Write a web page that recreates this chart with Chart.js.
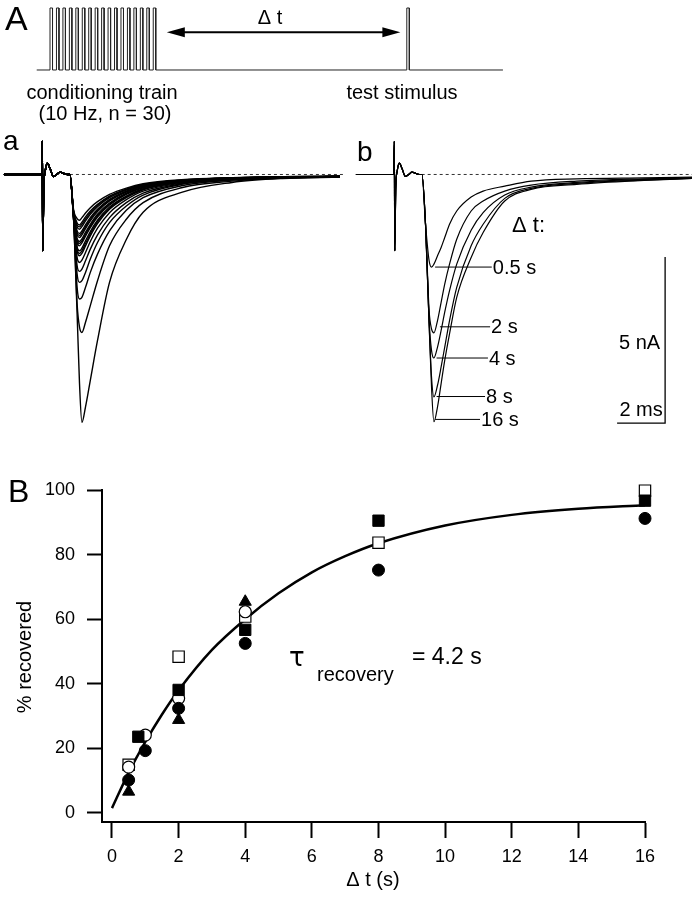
<!DOCTYPE html>
<html>
<head>
<meta charset="utf-8">
<script src="https://cdn.jsdelivr.net/npm/chart.js@4.4.1/dist/chart.umd.min.js"></script>
<style>
body { margin: 0; background: #fff; }
#wrap { position: relative; width: 692px; height: 900px; }
canvas { position: absolute; }
</style>
</head>
<body>
<div id="wrap">
  <canvas id="cA" width="692" height="130" style="left:0px;top:0px"></canvas>
  <canvas id="ca" width="345" height="310" style="left:0px;top:130px"></canvas>
  <canvas id="cb" width="347" height="310" style="left:345px;top:130px"></canvas>
  <canvas id="cB" width="692" height="440" style="left:0px;top:460px"></canvas>
</div>
<script>
// ---- A: stimulation protocol (x in train periods, y in pulse heights)
var trainOnsets = [0, 1, 2, 3, 4, 5, 6, 7, 8, 9, 10, 11, 12, 13, 14, 15, 16];
var testOnset = 55.3;
var pulseWidth = 0.39;
var protoStart = -2.06, protoEnd = 70.2;
var dtArrow = [18.1, 54.3];
var arrowLevel = 0.61;

// ---- a / b: EPSC traces (x in ms from stimulus, y in nA)
var tArt = [-1.6, -0.03, 0, 0.02, 0.06, 0.12, 0.21, 0.32, 0.46, 0.6, 0.74, 0.9, 1.05];
var vArt = [0, 0, 1.0, -2.3, -0.4, 0.1, 0.34, 0.18, -0.06, 0.0, 0.07, 0.03, 0];

var tA = [1.15, 1.3, 1.45, 1.55, 1.65, 1.8, 2.0, 2.3, 2.8, 3.5, 4.2, 5.8, 7.9, 10, 12.4];
var trainTraces = [
  [0, -1.3, -4.2, -6.3, -7.47, -7.0, -6.2, -5.0, -3.25, -1.96, -1.14, -0.54, -0.24, -0.12, -0.08],
  [0, -1.3, -3.9, -4.6, -4.76, -4.45, -3.95, -3.2, -2.15, -1.35, -0.85, -0.4, -0.2, -0.11, -0.08],
  [0, -1.3, -3.4, -3.75, -3.7, -3.4, -2.95, -2.4, -1.7, -1.08, -0.7, -0.34, -0.17, -0.1, -0.07],
  [0, -1.3, -3.0, -3.25, -3.2, -2.95, -2.55, -2.05, -1.45, -0.95, -0.62, -0.3, -0.16, -0.1, -0.07],
  [0, -1.3, -2.75, -2.92, -2.85, -2.6, -2.25, -1.82, -1.3, -0.85, -0.56, -0.28, -0.15, -0.1, -0.07],
  [0, -1.3, -2.5, -2.65, -2.58, -2.35, -2.02, -1.62, -1.15, -0.76, -0.5, -0.26, -0.14, -0.09, -0.07],
  [0, -1.25, -2.3, -2.45, -2.38, -2.15, -1.85, -1.48, -1.05, -0.7, -0.46, -0.24, -0.13, -0.09, -0.06],
  [0, -1.25, -2.25, -2.38, -2.3, -2.08, -1.79, -1.43, -1.02, -0.67, -0.44, -0.235, -0.13, -0.09, -0.06],
  [0, -1.25, -2.18, -2.3, -2.22, -2.0, -1.72, -1.38, -0.98, -0.65, -0.43, -0.23, -0.13, -0.09, -0.06],
  [0, -1.2, -2.05, -2.15, -2.06, -1.86, -1.6, -1.28, -0.92, -0.6, -0.4, -0.22, -0.12, -0.08, -0.06],
  [0, -1.2, -1.99, -2.08, -2.0, -1.8, -1.55, -1.24, -0.89, -0.58, -0.39, -0.215, -0.12, -0.08, -0.06],
  [0, -1.2, -1.93, -2.02, -1.94, -1.74, -1.5, -1.2, -0.86, -0.56, -0.38, -0.21, -0.12, -0.08, -0.06],
  [0, -1.15, -1.82, -1.9, -1.82, -1.63, -1.4, -1.12, -0.8, -0.53, -0.36, -0.2, -0.11, -0.08, -0.06],
  [0, -1.15, -1.76, -1.84, -1.76, -1.58, -1.35, -1.08, -0.78, -0.51, -0.35, -0.195, -0.11, -0.08, -0.06],
  [0, -1.15, -1.7, -1.78, -1.7, -1.52, -1.3, -1.05, -0.75, -0.5, -0.34, -0.19, -0.11, -0.08, -0.06],
  [0, -1.1, -1.58, -1.65, -1.57, -1.4, -1.2, -0.97, -0.7, -0.47, -0.32, -0.18, -0.1, -0.07, -0.05],
  [0, -1.1, -1.52, -1.58, -1.5, -1.34, -1.15, -0.93, -0.67, -0.45, -0.31, -0.175, -0.1, -0.07, -0.05],
  [0, -1.1, -1.46, -1.52, -1.44, -1.28, -1.1, -0.9, -0.65, -0.44, -0.3, -0.17, -0.1, -0.07, -0.05],
  [0, -1.05, -1.33, -1.38, -1.3, -1.16, -1.0, -0.82, -0.6, -0.41, -0.28, -0.16, -0.1, -0.07, -0.05]
];

var tB = [1.15, 1.3, 1.45, 1.55, 1.65, 1.8, 1.95, 2.1, 2.3, 2.6, 3.2, 3.7, 4.6, 5.7, 7.6, 10.4, 12.4];
var b16 = [0, -1.5, -4.5, -6.4, -7.45, -7.0, -6.3, -5.6, -4.8, -3.7, -2.5, -1.75, -0.8, -0.45, -0.3, -0.18, -0.12];
var b8  = [0, -1.5, -4.5, -6.1, -6.70, -6.35, -5.8, -5.2, -4.4, -3.4, -2.15, -1.5, -0.72, -0.42, -0.27, -0.17, -0.12];
var b4  = [0, -1.5, -4.4, -5.3, -5.53, -5.2, -4.7, -4.15, -3.5, -2.7, -1.68, -1.15, -0.62, -0.38, -0.24, -0.15, -0.11];
var b2  = [0, -1.5, -4.1, -4.65, -4.77, -4.4, -3.85, -3.3, -2.7, -1.95, -1.1, -0.8, -0.5, -0.32, -0.2, -0.13, -0.1];
var b05 = [0, -1.5, -2.6, -2.79, -2.7, -2.45, -2.2, -1.9, -1.5, -1.1, -0.68, -0.5, -0.35, -0.2, -0.13, -0.1, -0.08];

var labelText = ['0.5 s', '2 s', '4 s', '8 s', '16 s'];
var labelV  = [-2.79, -4.59, -5.53, -6.69, -7.38];
var labelT0 = [1.7, 1.9, 1.76, 1.76, 1.7];
var labelT1 = [4.06, 3.99, 3.9, 3.78, 3.57];

var barT = 11.28, barTop = -2.49, barNA = 5, barMS = 2;

// ---- B: recovery
var fitT = [0, 0.5, 1, 1.5, 2, 3, 4, 5, 6, 7, 8, 10, 12, 14, 16];
var fitV = [1.5, 12.5, 22, 30.5, 38, 50.5, 60, 68, 74.5, 79.5, 83.5, 89, 92.3, 94.2, 95.3];
var filledCircle = [[0.5, 10.2], [1, 19.3], [2, 32.4], [4, 52.5], [8, 75.2], [16, 91.2]];
var openCircle   = [[0.5, 14.2], [1, 24.1], [2, 35.5], [4, 62.3]];
var filledSquare = [[0.79, 23.6], [2, 38.1], [4, 56.7], [8, 90.5], [16, 96.7]];
var openSquare   = [[0.5, 14.9], [2, 48.4], [4, 60.8], [8, 83.7], [16, 99.8]];
var filledTri    = [[0.5, 6.6], [2, 28.8], [4, 65.4]];
var xTicksMax = 16, yTicksMax = 100;

var FONT = '"Liberation Sans", Arial, Helvetica, sans-serif';

function xy(ts, vs) { return ts.map(function(t, i) { return {x: t, y: vs[i]}; }); }
function pairs(p) { return p.map(function(d) { return {x: d[0], y: d[1]}; }); }

function textPlugin(list) {
  return {
    id: 'texts',
    afterDraw: function(chart) {
      var ctx = chart.ctx;
      var items = typeof list === 'function' ? list(chart) : list;
      items.forEach(function(l) {
        ctx.save();
        ctx.font = l.font;
        ctx.fillStyle = '#000';
        ctx.textAlign = l.align || 'left';
        ctx.textBaseline = l.base || 'middle';
        ctx.translate(l.x, l.y);
        if (l.rot) ctx.rotate(l.rot);
        ctx.fillText(l.text, 0, 0);
        ctx.restore();
      });
    }
  };
}

function hiddenScales(xmin, xmax, ymin, ymax) {
  return {
    x: {type: 'linear', display: false, min: xmin, max: xmax},
    y: {type: 'linear', display: false, min: ymin, max: ymax}
  };
}

function baseOpts(scales) {
  return {
    responsive: false,
    animation: false,
    events: [],
    layout: {padding: 0},
    plugins: {legend: {display: false}, tooltip: {enabled: false}},
    elements: {point: {radius: 0}, line: {borderColor: '#000', borderWidth: 1, cubicInterpolationMode: 'monotone'}},
    scales: scales
  };
}

// ---------- A ----------
var proto = [{x: protoStart, y: 0}];
trainOnsets.concat([testOnset]).forEach(function(o) {
  proto.push({x: o, y: 0}, {x: o, y: 1}, {x: o + pulseWidth, y: 1}, {x: o + pulseWidth, y: 0});
});
proto.push({x: protoEnd, y: 0});

var arrowHeads = {
  id: 'arrowHeads',
  afterDatasetsDraw: function(chart) {
    var ctx = chart.ctx, xs = chart.scales.x, ys = chart.scales.y;
    var y = ys.getPixelForValue(arrowLevel);
    [[dtArrow[0], 1], [dtArrow[1], -1]].forEach(function(a) {
      var x = xs.getPixelForValue(a[0]);
      ctx.beginPath();
      ctx.moveTo(x, y);
      ctx.lineTo(x + a[1] * 18, y - 5);
      ctx.lineTo(x + a[1] * 18, y + 5);
      ctx.closePath();
      ctx.fillStyle = '#000';
      ctx.fill();
    });
  }
};

new Chart(document.getElementById('cA'), {
  type: 'line',
  data: {datasets: [
    {data: proto, tension: 0, cubicInterpolationMode: 'default', borderColor: '#222', borderWidth: 1},
    {data: [{x: dtArrow[0] + 2, y: arrowLevel}, {x: dtArrow[1] - 2, y: arrowLevel}], borderWidth: 2}
  ]},
  options: baseOpts(hiddenScales(-7.75, 99.5, -0.968, 1.129)),
  plugins: [arrowHeads, textPlugin([
    {text: 'A', x: 5, y: 21, font: '34px ' + FONT},
    {text: '\u0394 t', x: 270, y: 18, align: 'center', font: '20px ' + FONT},
    {text: 'conditioning train', x: 102, y: 93, align: 'center', font: '20px ' + FONT},
    {text: '(10 Hz, n = 30)', x: 105, y: 114, align: 'center', font: '20px ' + FONT},
    {text: 'test stimulus', x: 402, y: 93, align: 'center', font: '20px ' + FONT}
  ])]
});

// ---------- a ----------
var aSets = trainTraces.map(function(v) {
  return {data: xy(tArt, vArt).concat(xy(tA, v)), borderWidth: 1.4};
});
aSets.push({data: [{x: 1.15, y: 0}, {x: 12.6, y: 0}], borderDash: [3, 3], borderColor: '#333'});

new Chart(document.getElementById('ca'), {
  type: 'line',
  data: {datasets: aSets},
  options: baseOpts(hiddenScales(-1.7625, 12.61, -8.0, 1.34)),
  plugins: [textPlugin([{text: 'a', x: 3, y: 20, base: 'alphabetic', font: '28px ' + FONT}])]
});

// ---------- b ----------
var bSets = [b05, b2, b4, b8, b16].map(function(v) {
  return {data: xy(tArt, vArt).concat(xy(tB, v)), borderWidth: 1.2};
});
bSets.push({data: [{x: 1.14, y: 0}, {x: 12.4, y: 0}], borderDash: [3, 3], borderColor: '#333'});
labelV.forEach(function(v, i) {
  bSets.push({data: [{x: labelT0[i], y: v}, {x: labelT1[i], y: v}], tension: 0, borderWidth: 1});
});
bSets.push({data: [{x: barT, y: barTop}, {x: barT, y: barTop - barNA}, {x: barT - barMS, y: barTop - barNA}],
  tension: 0, cubicInterpolationMode: 'default', borderWidth: 1.3});

new Chart(document.getElementById('cb'), {
  type: 'line',
  data: {datasets: bSets},
  options: baseOpts(hiddenScales(-2.054, 12.40, -8.0, 1.34)),
  plugins: [textPlugin(function(chart) {
    var xs = chart.scales.x, ys = chart.scales.y;
    var out = [
      {text: 'b', x: 12, y: 31, base: 'alphabetic', font: '28px ' + FONT},
      {text: '\u0394 t:', x: 167, y: 96, font: '22px ' + FONT},
      {text: '5 nA', x: xs.getPixelForValue(barT) - 5, y: ys.getPixelForValue(barTop - barNA / 2) + 3, align: 'right', font: '20px ' + FONT},
      {text: '2 ms', x: xs.getPixelForValue(barT - barMS / 2), y: ys.getPixelForValue(barTop - barNA) - 13, align: 'center', font: '20px ' + FONT}
    ];
    labelText.forEach(function(t, i) {
      out.push({text: t, x: xs.getPixelForValue(labelT1[i]) + 1, y: ys.getPixelForValue(labelV[i]) + 1, font: '20px ' + FONT});
    });
    return out;
  })]
});

// ---------- B ----------
new Chart(document.getElementById('cB'), {
  type: 'scatter',
  data: {datasets: [
    {type: 'line', data: xy(fitT, fitV), borderColor: '#000', borderWidth: 2.5, pointRadius: 0,
     cubicInterpolationMode: 'monotone', order: 10},
    {data: pairs(filledCircle), pointStyle: 'circle', pointRadius: 6, backgroundColor: '#000', borderColor: '#000', borderWidth: 1, order: 2},
    {data: pairs(openCircle), pointStyle: 'circle', pointRadius: 6, backgroundColor: '#fff', borderColor: '#000', borderWidth: 1.2, order: 4},
    {data: pairs(filledSquare), pointStyle: 'rect', pointRadius: 8, backgroundColor: '#000', borderColor: '#000', borderWidth: 1, order: 3},
    {data: pairs(openSquare), pointStyle: 'rect', pointRadius: 8, backgroundColor: '#fff', borderColor: '#000', borderWidth: 1.2, order: 5},
    {data: pairs(filledTri), pointStyle: 'triangle', pointRadius: 7, backgroundColor: '#000', borderColor: '#000', borderWidth: 1, order: 6}
  ]},
  options: {
    responsive: false,
    animation: false,
    events: [],
    clip: false,
    layout: {padding: {left: 0, right: 47, top: 30, bottom: 0}},
    plugins: {legend: {display: false}, tooltip: {enabled: false}},
    scales: {
      x: {
        type: 'linear', min: -0.3, max: xTicksMax,
        afterFit: function(s) { s.height = 78; },
        border: {display: true, color: '#000', width: 2},
        grid: {drawOnChartArea: false, drawTicks: true, tickLength: 16, tickWidth: 2, tickColor: '#000'},
        ticks: {stepSize: 2, includeBounds: false, padding: 8, color: '#000', maxRotation: 0,
                font: {family: FONT, size: 18}}
      },
      y: {
        type: 'linear', min: -2.8, max: yTicksMax,
        afterFit: function(s) { s.width = 102; },
        border: {display: true, color: '#000', width: 2},
        grid: {drawOnChartArea: false, drawTicks: true, tickLength: 15, tickWidth: 2, tickColor: '#000'},
        ticks: {stepSize: 20, includeBounds: false, padding: 12, color: '#000',
                font: {family: FONT, size: 18}}
      }
    }
  },
  plugins: [textPlugin([
    {text: 'B', x: 8, y: 33, font: '32px ' + FONT},
    {text: '% recovered', x: 25, y: 197, align: 'center', rot: -Math.PI / 2, font: '20px ' + FONT},
    {text: '\u0394 t (s)', x: 373, y: 420, align: 'center', font: '20px ' + FONT},
    {text: '\u03C4', x: 289, y: 199, font: '26px "DejaVu Sans", sans-serif'},
    {text: 'recovery', x: 317, y: 215, font: '20px ' + FONT},
    {text: '= 4.2 s', x: 412, y: 198, font: '23px ' + FONT}
  ])]
});
</script>
</body>
</html>
